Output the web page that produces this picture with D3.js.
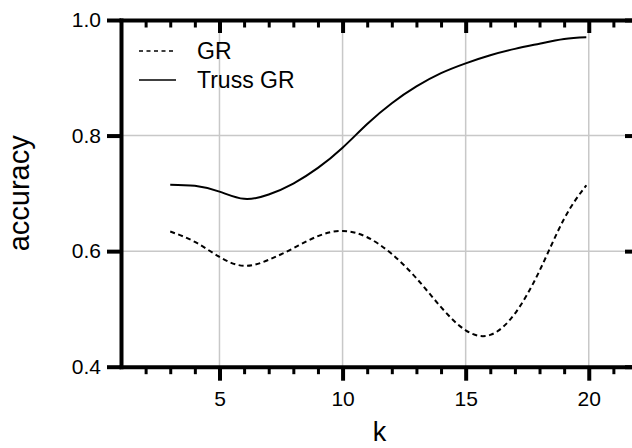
<!DOCTYPE html>
<html>
<head>
<meta charset="utf-8">
<script src="https://cdn.jsdelivr.net/npm/d3@7"></script>
<style>
  body { margin: 0; background: #fff; }
  svg { display: block; }
  text { font-family: "Liberation Sans", Arial, sans-serif; fill: #000; }
</style>
</head>
<body>
<svg id="chart" width="632" height="448"></svg>
<script>
// values
const kValues = [3, 4, 5, 6, 7, 8, 9, 10, 11, 12, 13, 14, 15, 16, 17, 18, 19, 19.9];
const accTruss = [0.715, 0.713, 0.703, 0.6905, 0.698, 0.717, 0.744, 0.779, 0.820, 0.856, 0.885, 0.908, 0.925, 0.939, 0.950, 0.959, 0.967, 0.970];
const accGR = [0.634, 0.616, 0.590, 0.5745, 0.585, 0.605, 0.626, 0.635, 0.624, 0.595, 0.553, 0.503, 0.463, 0.455, 0.492, 0.566, 0.656, 0.714];
const xTicks = [5, 10, 15, 20];
const xMinor = d3.range(2, 23);
const yTicks = [0.4, 0.6, 0.8, 1.0];
const gridY = [0.6, 0.8];
const seriesNames = ['GR', 'Truss GR'];

const margin = { left: 121, right: 638, top: 20, bottom: 366.7 };
const svg = d3.select('#chart');

const x = d3.scaleLinear().domain([1, 22]).range([margin.left, margin.right]);
const y = d3.scaleLinear().domain([0.4, 1.0]).range([margin.bottom, margin.top]);

// grid
const grid = svg.append('g').attr('stroke', '#c8c8c8').attr('stroke-width', 1.5);
grid.selectAll('.gx').data(xTicks).join('line')
  .attr('x1', d => x(d)).attr('x2', d => x(d))
  .attr('y1', margin.top).attr('y2', margin.bottom);
grid.selectAll('.gy').data(gridY).join('line')
  .attr('y1', d => y(d)).attr('y2', d => y(d))
  .attr('x1', margin.left).attr('x2', margin.right);

// curves
const line = d3.line().x(d => x(d[0])).y(d => y(d[1])).curve(d3.curveNatural);
svg.append('path')
  .datum(d3.zip(kValues, accGR))
  .attr('d', line).attr('fill', 'none').attr('stroke', '#000')
  .attr('stroke-width', 2).attr('stroke-dasharray', '5,3.5');
svg.append('path')
  .datum(d3.zip(kValues, accTruss))
  .attr('d', line).attr('fill', 'none').attr('stroke', '#000')
  .attr('stroke-width', 2);

// axes
const styleAxis = (g) => {
  g.select('.domain').attr('stroke-width', 4).attr('stroke-linecap', 'square');
  g.selectAll('.tick line').attr('stroke-width', 4);
  g.selectAll('.tick text').attr('font-size', 21)
    .style('font-family', '"Liberation Sans", Arial, sans-serif');
};
const minorTicks = xMinor.filter(d => !xTicks.includes(d));

// minor ticks bottom/top
[margin.bottom, margin.top].forEach(ty => {
  svg.append('g').attr('transform', `translate(0,${ty})`)
    .call(d3.axisBottom(x).tickValues(minorTicks).tickSize(7.5).tickSizeOuter(0).tickFormat(''))
    .call(g => { g.select('.domain').remove(); g.selectAll('.tick line').attr('stroke-width', 3); });
});

svg.append('g').attr('transform', `translate(0,${margin.bottom})`)
  .call(d3.axisBottom(x).tickValues(xTicks).tickSize(14).tickSizeOuter(0).tickPadding(10))
  .call(styleAxis);
svg.append('g').attr('transform', `translate(0,${margin.top})`)
  .call(d3.axisBottom(x).tickValues(xTicks).tickSize(13).tickSizeOuter(0).tickFormat(''))
  .call(styleAxis);
svg.append('g').attr('transform', `translate(${margin.left},0)`)
  .call(d3.axisLeft(y).tickValues(yTicks).tickSize(14).tickSizeOuter(0).tickPadding(6).tickFormat(d3.format('.1f')))
  .call(styleAxis);
svg.append('g').attr('transform', `translate(${margin.right},0)`)
  .call(d3.axisLeft(y).tickValues(yTicks).tickSize(13).tickSizeOuter(0).tickFormat(''))
  .call(styleAxis);

// axis titles
svg.append('text').attr('x', (margin.left + margin.right) / 2).attr('y', 441)
  .attr('text-anchor', 'middle').attr('font-size', 27).text('k');
svg.append('text')
  .attr('transform', `translate(28.5,${(margin.top + margin.bottom) / 2}) rotate(-90)`)
  .attr('text-anchor', 'middle').attr('font-size', 29).text('accuracy');

// legend
const legend = svg.append('g');
seriesNames.forEach((name, i) => {
  const ly = 51 + i * 29;
  legend.append('line').attr('x1', 139).attr('x2', 176).attr('y1', ly).attr('y2', ly)
    .attr('stroke', '#000').attr('stroke-width', 1.5)
    .attr('stroke-dasharray', i === 0 ? '4,3.5' : null);
  legend.append('text').attr('x', 197).attr('y', ly + 7.5)
    .attr('font-size', 23).text(name);
});
</script>
</body>
</html>
